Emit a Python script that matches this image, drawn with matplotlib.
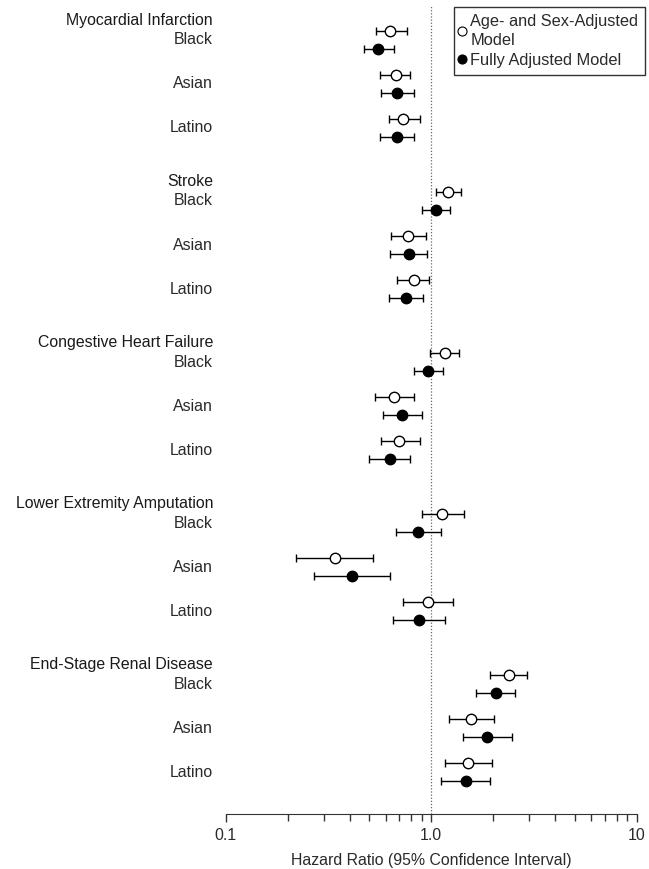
import numpy as np
import matplotlib
matplotlib.use("Agg")
import matplotlib.pyplot as plt
from matplotlib.lines import Line2D
from matplotlib.ticker import LogLocator, NullFormatter, FixedLocator, FixedFormatter

plt.rcParams['font.family'] = ['Liberation Sans', 'DejaVu Sans']

outcomes = ["Myocardial Infarction", "Stroke", "Congestive Heart Failure",
            "Lower Extremity Amputation", "End-Stage Renal Disease"]
races = ["Black", "Asian", "Latino"]

# age- and sex-adjusted model: HR, low, high (per outcome, per race)
hr_age = [[0.63, 0.54, 0.76], [0.67, 0.56, 0.79], [0.73, 0.62, 0.88],
          [1.20, 1.05, 1.39], [0.77, 0.64, 0.94], [0.82, 0.68, 0.98],
          [1.16, 0.99, 1.37], [0.66, 0.53, 0.82], [0.70, 0.57, 0.88],
          [1.13, 0.90, 1.44], [0.34, 0.22, 0.52], [0.96, 0.73, 1.27],
          [2.38, 1.94, 2.93], [1.57, 1.22, 2.03], [1.51, 1.16, 1.97]]
# fully adjusted model
hr_full = [[0.55, 0.47, 0.66], [0.68, 0.57, 0.82], [0.68, 0.56, 0.82],
           [1.05, 0.90, 1.23], [0.78, 0.63, 0.95], [0.75, 0.62, 0.91],
           [0.96, 0.82, 1.14], [0.72, 0.58, 0.90], [0.63, 0.50, 0.79],
           [0.86, 0.67, 1.12], [0.41, 0.27, 0.63], [0.87, 0.65, 1.16],
           [2.06, 1.66, 2.57], [1.87, 1.43, 2.46], [1.48, 1.11, 1.94]]

hr_age = np.array(hr_age)
hr_full = np.array(hr_full)

group_gap = 3.66
pair_off = 0.205
ypos = np.array([g * group_gap + r for g in range(len(outcomes)) for r in range(len(races))])

fs = 11.4
txt = '#2a2a2a'

fig = plt.figure(figsize=(6.49, 8.69), dpi=100)
ax = fig.add_axes([0.348, 0.0633, 0.633, 0.931])

ax.axvline(1.0, color='#666666', linestyle=(0, (1, 1.5)), linewidth=0.9, zorder=0)

ax.errorbar(hr_age[:, 0], ypos - pair_off,
            xerr=[hr_age[:, 0] - hr_age[:, 1], hr_age[:, 2] - hr_age[:, 0]],
            fmt='o', mfc='white', mec='black', mew=1, ms=7.5, ecolor='black',
            elinewidth=1, capsize=3.1, capthick=1)
ax.errorbar(hr_full[:, 0], ypos + pair_off,
            xerr=[hr_full[:, 0] - hr_full[:, 1], hr_full[:, 2] - hr_full[:, 0]],
            fmt='o', mfc='black', mec='black', mew=1, ms=7.5, ecolor='black',
            elinewidth=1, capsize=3.1, capthick=1)

ax.set_xscale('log')
ax.set_xlim(0.1, 10)
ax.set_ylim(17.59, -0.795)

ax.xaxis.set_major_locator(FixedLocator([0.1, 1.0, 10]))
ax.xaxis.set_major_formatter(FixedFormatter(["0.1", "1.0", "10"]))
ax.xaxis.set_minor_locator(LogLocator(base=10, subs=np.arange(2, 10)))
ax.xaxis.set_minor_formatter(NullFormatter())
ax.tick_params(axis='x', which='major', length=6, width=1, color='#333333',
               labelsize=fs, labelcolor=txt, pad=4)
ax.tick_params(axis='x', which='minor', length=5, width=1, color='#333333')
ax.set_yticks([])
for s in ['top', 'right', 'left']:
    ax.spines[s].set_visible(False)
ax.spines['bottom'].set_color('#333333')
ax.set_xlabel("Hazard Ratio (95% Confidence Interval)", fontsize=fs, color=txt, labelpad=7)

# labels on the left
for i, y in enumerate(ypos):
    g, r = divmod(i, 3)
    ax.annotate(races[r], xy=(213 / 649, y), xycoords=('figure fraction', 'data'),
                ha='right', va='center', fontsize=fs, color=txt, annotation_clip=False)
    if r == 0:
        ax.annotate(outcomes[g], xy=(213 / 649, y - 0.45), xycoords=('figure fraction', 'data'),
                    ha='right', va='center', fontsize=fs, color='#1a1a1a', annotation_clip=False)

handles = [Line2D([], [], ls='none', marker='o', mfc='white', mec='black', mew=0.8, ms=6.5),
           Line2D([], [], ls='none', marker='o', mfc='black', mec='black', mew=0.8, ms=6.5)]
labels = ["Age- and Sex-Adjusted\nModel", "Fully Adjusted Model"]
leg = fig.legend(handles, labels, loc='upper right', bbox_to_anchor=(0.994, 0.992), fontsize=11.8,
                 frameon=True, fancybox=False, edgecolor='#333333', framealpha=1,
                 handlelength=0.15, handletextpad=0.45, borderpad=0.42, labelspacing=0.3,
                 borderaxespad=0)
leg.get_frame().set_linewidth(1)
for t in leg.get_texts():
    t.set_color(txt)
    t.set_linespacing(1.35)

fig.savefig("out.png", dpi=100)
